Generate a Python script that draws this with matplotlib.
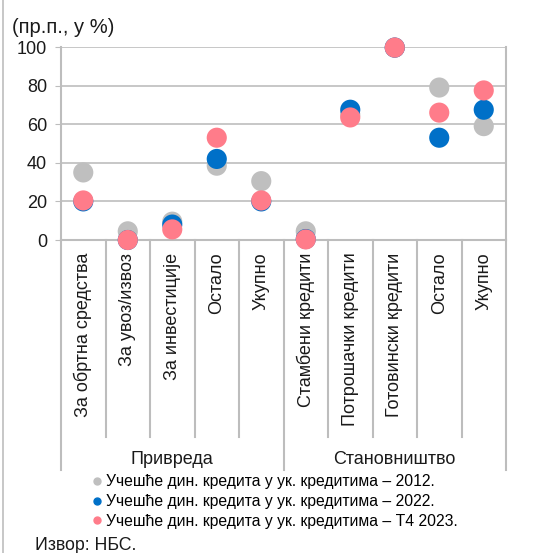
import matplotlib
matplotlib.use('Agg')
import matplotlib.pyplot as plt
from matplotlib.lines import Line2D
import matplotlib.transforms as mtransforms
import numpy as np

plt.rcParams['font.family'] = ['Liberation Sans', 'DejaVu Sans']

categories = ['За обртна средства', 'За увоз/извоз', 'За инвестиције', 'Остало', 'Укупно',
              'Стамбени кредити', 'Потрошачки кредити', 'Готовински кредити', 'Остало', 'Укупно']
groups = ['Привреда', 'Становништво']
group_sizes = [5, 5]

share_2012 = [35, 4.5, 9.5, 38.5, 30.5, 4.5, 65, 99.7, 79, 59]
share_2022 = [20, 0, 8, 42, 20, 0.5, 67.5, 99.7, 53, 67.5]
share_2023 = [20.5, 0, 5.5, 53, 20.5, 0.3, 63.5, 99.7, 66, 77.5]

series_labels = ['Учешће дин. кредита у ук. кредитима – 2012.',
                 'Учешће дин. кредита у ук. кредитима – 2022.',
                 'Учешће дин. кредита у ук. кредитима – Т4 2023.']

GRAY = '#BFBFBF'
BLUE = '#0070C8'
PINK = '#FF7C8A'
GRID = '#BDBDBD'
TEXT = '#1a1a1a'

fig = plt.figure(figsize=(5.41, 5.53), dpi=100)
ax = fig.add_axes([0.1128, 0.566, 0.8225, 0.349])

x = np.arange(len(categories))
for vals, col in zip([share_2012, share_2022, share_2023], [GRAY, BLUE, PINK]):
    ax.scatter(x, vals, s=210, color=col, edgecolors='none', zorder=3, clip_on=False)

ax.set_xlim(-0.5, len(categories) - 0.5)
ax.set_ylim(0, 100)
ax.set_yticks(np.arange(0, 101, 20))
ax.tick_params(axis='y', length=4, color=GRID, labelsize=13, labelcolor=TEXT, pad=6)
ax.set_xticks([])
ax.grid(axis='y', color=GRID, lw=1.2, zorder=0)
for side in ['left', 'right', 'bottom']:
    ax.spines[side].set_color(GRID)
    ax.spines[side].set_linewidth(1.5)
ax.spines['top'].set_visible(False)

# category separators and rotated labels under the axis
trans = mtransforms.blended_transform_factory(ax.transData, ax.transAxes)
bounds = [-0.5] + list(np.cumsum(group_sizes) - 0.5)
for b in np.arange(-0.5, len(categories), 1.0):
    low = -1.19 if b in bounds else -1.02
    ax.plot([b, b], [0, low], transform=trans, color=GRID, lw=1.5, clip_on=False)
for i, lab in enumerate(categories):
    ax.text(i, -0.065, lab, transform=trans, rotation=90, ha='center', va='top',
            fontsize=13, color=TEXT)
for g, lab in enumerate(groups):
    centre = (bounds[g] + bounds[g + 1]) / 2
    ax.text(centre, -1.135, lab, transform=trans, ha='center', va='center',
            fontsize=13, color=TEXT)

fig.text(0.022, 0.95, '(пр.п., у %)', fontsize=14.5, color=TEXT, va='center', ha='left')

handles = [Line2D([], [], marker='o', ls='none', color=c, markersize=5)
           for c in [GRAY, BLUE, PINK]]
fig.legend(handles, series_labels, loc='upper left', bbox_to_anchor=(0.165, 0.142),
           frameon=False, fontsize=11.3, handletextpad=0.05, labelspacing=0.3,
           handlelength=1.0, borderpad=0, borderaxespad=0)

fig.text(0.065, 0.014, 'Извор: НБС.', fontsize=12.8, color=TEXT, va='center', ha='left')

# thin frame line on the left edge
fig.add_artist(Line2D([0.006, 0.006], [0, 1], color=GRID, lw=1.2))

fig.savefig('out.png', dpi=100)
